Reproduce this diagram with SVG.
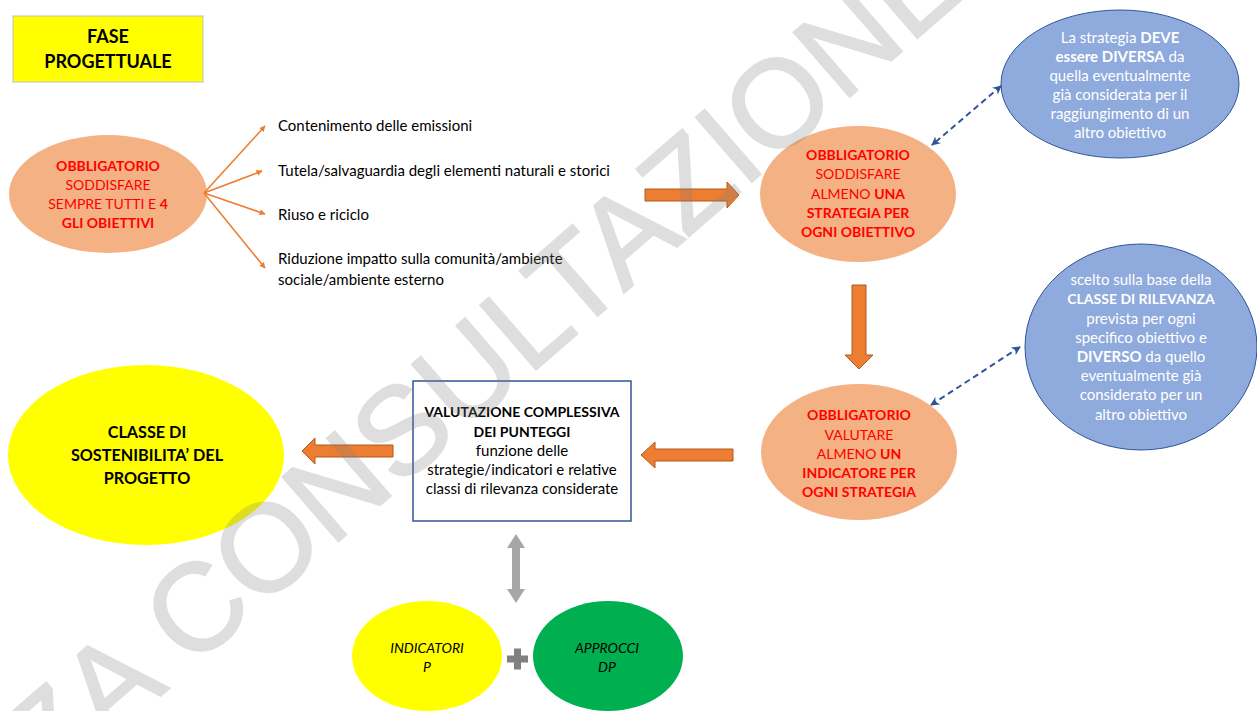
<svg xmlns="http://www.w3.org/2000/svg" width="1257" height="711" viewBox="0 0 1257 711">
<style>
  .t { font-family: Lato, "Liberation Sans", sans-serif; font-size: 15px; }
  .u { font-size: 14px; }
  .big { font-size: 18px; }
  .cl { font-size: 16.2px; }
  .it { font-size: 14px; font-style: italic; }
  .c { text-anchor: middle; }
  .b { font-weight: bold; }
  .red { fill: #ff0000; }
  .blk { fill: #000000; }
  .wht { fill: #ffffff; }
  .orangeEl { fill: #f4b183; }
  .blueEl { fill: #8faadc; stroke: #2f5597; stroke-width: 1; }
  .block { fill: #ed7d31; stroke: #ae5a21; stroke-width: 1; }
  .thin { stroke: #ed7d31; stroke-width: 1.6; fill: none; marker-end: url(#oh); }
  .dash { stroke: #2f5597; stroke-width: 2; fill: none; stroke-dasharray: 6 4; marker-start: url(#bhs); marker-end: url(#bhe); }
</style>
<defs>
  <marker id="oh" viewBox="0 0 10 10" refX="9" refY="5" markerWidth="6" markerHeight="6" orient="auto" markerUnits="userSpaceOnUse">
    <path d="M0,0 L10,5 L0,10 Z" fill="#ed7d31"/>
  </marker>
  <marker id="bhe" viewBox="0 0 10 10" refX="9" refY="5" markerWidth="9" markerHeight="9" orient="auto" markerUnits="userSpaceOnUse">
    <path d="M0,0 L10,5 L0,10 L3,5 Z" fill="#2f5597"/>
  </marker>
  <marker id="bhs" viewBox="0 0 10 10" refX="1" refY="5" markerWidth="9" markerHeight="9" orient="auto" markerUnits="userSpaceOnUse">
    <path d="M10,0 L0,5 L10,10 L7,5 Z" fill="#2f5597"/>
  </marker>
</defs>
<rect width="1257" height="711" fill="#ffffff"/>

<g id="fase">
  <rect x="13" y="16" width="190" height="66" fill="#ffff00" stroke="#bfbfbf" stroke-width="1"/>
  <text class="t big c b blk" x="108" y="43">FASE</text>
  <text class="t big c b blk" x="108" y="68">PROGETTUALE</text>
</g>

<g id="obiettivi">
  <ellipse class="orangeEl" cx="108" cy="194" rx="99" ry="59"/>
  <text class="t u c red b" x="108" y="171">OBBLIGATORIO</text>
  <text class="t u c red" x="108" y="190">SODDISFARE</text>
  <text class="t u c red" x="108" y="209">SEMPRE TUTTI E <tspan class="b">4</tspan></text>
  <text class="t u c red b" x="108" y="228">GLI OBIETTIVI</text>
</g>

<g id="lista">
  <text class="t blk" x="278" y="131">Contenimento delle emissioni</text>
  <text class="t blk" x="278" y="176">Tutela/salvaguardia degli elementi naturali e storici</text>
  <text class="t blk" x="278" y="220">Riuso e riciclo</text>
  <text class="t blk" x="278" y="264">Riduzione impatto sulla comunità/ambiente</text>
  <text class="t blk" x="278" y="285">sociale/ambiente esterno</text>
</g>

<g id="strategia">
  <ellipse class="orangeEl" cx="858" cy="194" rx="98" ry="68"/>
  <text class="t u c red b" x="858" y="160">OBBLIGATORIO</text>
  <text class="t u c red" x="858" y="179">SODDISFARE</text>
  <text class="t u c red" x="858" y="199">ALMENO <tspan class="b">UNA</tspan></text>
  <text class="t u c red b" x="858" y="218">STRATEGIA PER</text>
  <text class="t u c red b" x="858" y="237">OGNI OBIETTIVO</text>
</g>

<g id="nota-strategia">
  <ellipse class="blueEl" cx="1120" cy="84" rx="119" ry="74"/>
  <text class="t c wht" x="1120" y="43">La strategia <tspan class="b">DEVE</tspan></text>
  <text class="t c wht" x="1120" y="62"><tspan class="b">essere DIVERSA</tspan> da</text>
  <text class="t c wht" x="1120" y="81">quella eventualmente</text>
  <text class="t c wht" x="1120" y="100">già considerata per il</text>
  <text class="t c wht" x="1120" y="119">raggiungimento di un</text>
  <text class="t c wht" x="1120" y="138">altro obiettivo</text>
</g>

<g id="indicatore">
  <ellipse class="orangeEl" cx="859" cy="452" rx="98" ry="68"/>
  <text class="t u c red b" x="859" y="420">OBBLIGATORIO</text>
  <text class="t u c red" x="859" y="440">VALUTARE</text>
  <text class="t u c red" x="859" y="459">ALMENO <tspan class="b">UN</tspan></text>
  <text class="t u c red b" x="859" y="478">INDICATORE PER</text>
  <text class="t u c red b" x="859" y="497">OGNI STRATEGIA</text>
</g>

<g id="nota-indicatore">
  <ellipse class="blueEl" cx="1141" cy="347" rx="116" ry="103"/>
  <text class="t c wht" x="1141" y="285">scelto sulla base della</text>
  <text class="t u c wht b" x="1141" y="304">CLASSE DI RILEVANZA</text>
  <text class="t c wht" x="1141" y="324">prevista per ogni</text>
  <text class="t c wht" x="1141" y="343">specifico obiettivo e</text>
  <text class="t c wht" x="1141" y="362"><tspan class="b">DIVERSO</tspan> da quello</text>
  <text class="t c wht" x="1141" y="381">eventualmente già</text>
  <text class="t c wht" x="1141" y="400">considerato per un</text>
  <text class="t c wht" x="1141" y="420">altro obiettivo</text>
</g>

<g id="valutazione">
  <rect x="413" y="381" width="218" height="140" fill="#ffffff" stroke="#2f5597" stroke-width="1.5"/>
  <text class="t u c blk b" x="522" y="417">VALUTAZIONE COMPLESSIVA</text>
  <text class="t u c blk b" x="522" y="437">DEI PUNTEGGI</text>
  <text class="t c blk" x="522" y="456">funzione delle</text>
  <text class="t c blk" x="522" y="475">strategie/indicatori e relative</text>
  <text class="t c blk" x="522" y="494">classi di rilevanza considerate</text>
</g>

<g id="classe">
  <ellipse cx="146" cy="455" rx="138" ry="90" fill="#ffff00"/>
  <text class="t cl c blk b" x="147" y="438">CLASSE DI</text>
  <text class="t cl c blk b" x="147" y="461">SOSTENIBILITA’ DEL</text>
  <text class="t cl c blk b" x="147" y="484">PROGETTO</text>
</g>

<g id="indicatori-p">
  <ellipse cx="427" cy="656" rx="75" ry="55" fill="#ffff00"/>
  <text class="t it c blk" x="427" y="653">INDICATORI</text>
  <text class="t it c blk" x="427" y="672">P</text>
</g>

<g id="approcci-dp">
  <ellipse cx="608" cy="656" rx="75" ry="55" fill="#00b050"/>
  <text class="t it c blk" x="607" y="653">APPROCCI</text>
  <text class="t it c blk" x="607" y="672">DP</text>
</g>

<g id="piu">
  <rect x="507" y="655.5" width="21" height="7" fill="#808080"/>
  <rect x="514" y="648.5" width="7" height="21" fill="#808080"/>
</g>

<g id="connectors">
  <line class="thin" x1="204" y1="193" x2="265" y2="126"/>
  <line class="thin" x1="204" y1="193" x2="262" y2="171"/>
  <line class="thin" x1="204" y1="193" x2="265" y2="214"/>
  <line class="thin" x1="204" y1="193" x2="265" y2="268"/>
  <polygon class="block" points="645,189 727,189 727,182 739,195 727,208 727,201 645,201"/>
  <polygon class="block" points="852,285 866,285 866,355 873,355 859,369 845,355 852,355"/>
  <polygon class="block" points="733,449 655,449 655,442 641,455 655,468 655,461 733,461"/>
  <polygon class="block" points="393,445 315,445 315,438 302,451 315,464 315,457 393,457"/>
  <polygon points="516,534 525,548 520,548 520,589 525,589 516,603 507,589 512,589 512,548 507,548" fill="#a6a6a6"/>
  <line class="dash" x1="1001" y1="86" x2="932" y2="145"/>
  <line class="dash" x1="1020" y1="347" x2="931" y2="405"/>
</g>

<g id="watermark" opacity="0.25">
  <text transform="translate(50,792) rotate(-41)" x="0" y="0" font-family="'Liberation Sans', sans-serif" font-size="124" fill="#7f7f7f" stroke="#7f7f7f" stroke-width="2">ZA CONSULTAZIONE</text>
</g>
</svg>
